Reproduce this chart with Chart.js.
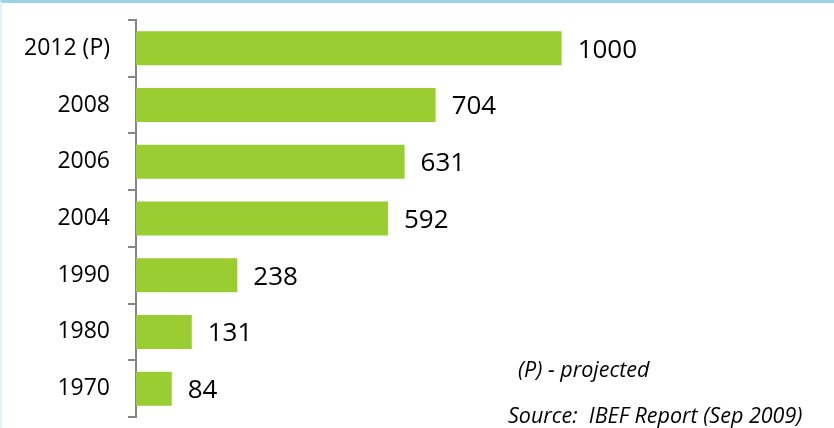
<!DOCTYPE html>
<html>
<head>
<meta charset="utf-8">
<script src="https://cdn.jsdelivr.net/npm/chart.js@4/dist/chart.umd.min.js"></script>
<style>
  html, body { margin: 0; padding: 0; background: #fff; }
  #wrap { position: relative; width: 834px; height: 428px; box-sizing: border-box;
          border-top: 3px solid #9DD3E6; border-left: 2px solid #E3F2F8; }
  canvas { position: absolute; left: -2px; top: -3px; }
</style>
</head>
<body>
<div id="wrap"><canvas id="c" width="834" height="428"></canvas></div>
<script>
const categories = ["2012 (P)", "2008", "2006", "2004", "1990", "1980", "1970"];
const values = [1000, 704, 631, 592, 238, 131, 84];
const noteLines = ["(P) - projected", "Source:  IBEF Report (Sep 2009)"];

const FONT = "'Open Sans', 'DejaVu Sans', sans-serif";

const valueLabels = {
  id: 'valueLabels',
  afterDatasetsDraw(chart) {
    const ctx = chart.ctx;
    const meta = chart.getDatasetMeta(0);
    ctx.save();
    ctx.font = "26px " + FONT;
    ctx.fillStyle = "#000";
    ctx.textAlign = "left";
    ctx.textBaseline = "middle";
    meta.data.forEach((bar, i) => {
      ctx.fillText(String(values[i]), bar.x + 16, bar.y + 2);
    });
    ctx.restore();
  }
};

const notes = {
  id: 'notes',
  afterDraw(chart) {
    const ctx = chart.ctx;
    ctx.save();
    ctx.font = "italic 21.5px " + FONT;
    ctx.fillStyle = "#000";
    ctx.textAlign = "left";
    ctx.textBaseline = "alphabetic";
    ctx.fillText(noteLines[0], 518, 377);
    ctx.fillText(noteLines[1], 508, 423);
    ctx.restore();
  }
};

new Chart(document.getElementById('c'), {
  type: 'bar',
  data: {
    labels: categories,
    datasets: [{
      data: values,
      backgroundColor: '#9ACD32',
      borderWidth: 0,
      categoryPercentage: 1.0,
      barPercentage: 0.6
    }]
  },
  options: {
    indexAxis: 'y',
    responsive: false,
    animation: false,
    devicePixelRatio: 1,
    layout: { padding: { top: 20, bottom: 11, right: 17, left: 0 } },
    plugins: { legend: { display: false }, tooltip: { enabled: false } },
    scales: {
      x: { display: false, min: 0, max: 1600 },
      y: {
        afterFit(scale) {
          scale.width = 136;
          scale.paddingTop = 0;
          scale.paddingBottom = 0;
        },
        grid: { drawOnChartArea: false, offset: true, tickLength: 8, color: '#868686', lineWidth: 2 },
        border: { display: true, color: '#868686', width: 2 },
        ticks: { padding: 18, color: '#000', font: { family: FONT, size: 23 } }
      }
    }
  },
  plugins: [valueLabels, notes]
});
</script>
</body>
</html>
